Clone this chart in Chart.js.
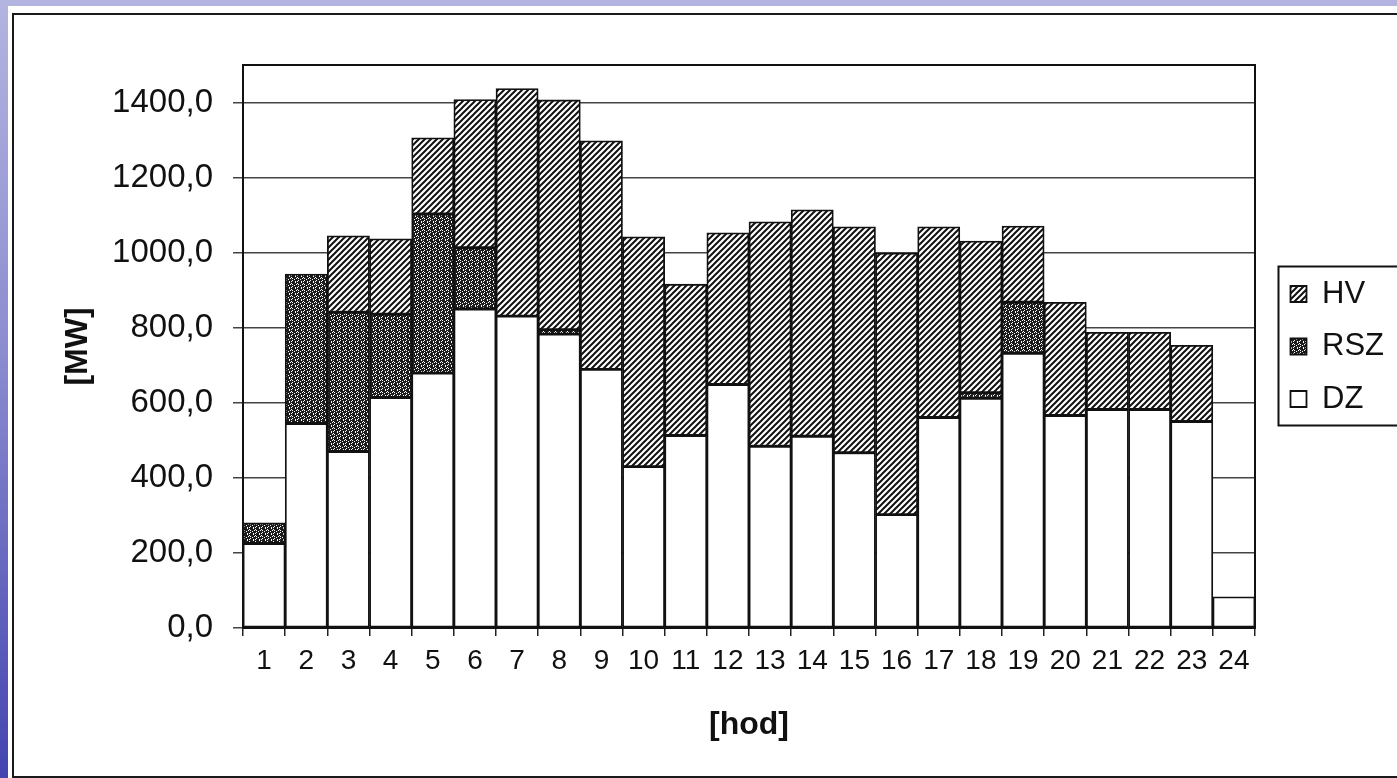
<!DOCTYPE html>
<html>
<head>
<meta charset="utf-8">
<script src="https://cdn.jsdelivr.net/npm/chart.js@4"></script>
<style>
html, body { margin: 0; padding: 0; }
body {
    width: 1397px; height: 778px; overflow: hidden; position: relative;
    background: linear-gradient(180deg, #b4b4e0 0%, #8c8cd0 45%, #4444b0 100%);
}
#card { position: absolute; left: 8px; top: 6px; width: 1400px; height: 780px; background: #fff; }
#frame { position: absolute; left: 12px; top: 13px; width: 1400px; height: 761px; border: 2px solid #1a1a1a; }
#holder { position: absolute; left: 0; top: 0; width: 1397px; height: 778px; }
</style>
</head>
<body>
<div id="card"></div>
<div id="frame"></div>
<div id="holder"><canvas id="chartHolder"></canvas></div>
<script>
const chartHolder = document.getElementById("chartHolder");

// hours of the day
const hours = ["1", "2", "3", "4", "5", "6", "7", "8", "9", "10", "11", "12",
    "13", "14", "15", "16", "17", "18", "19", "20", "21", "22", "23", "24"];

// [MW]
const dzValues  = [225, 545, 470, 614, 679, 850, 831, 783, 689, 430, 513, 649,
    484, 511, 467, 302, 561, 612, 732, 566, 582, 582, 550, 83];
const rszValues = [55, 398, 371, 222, 424, 163, 0, 12, 0, 0, 0, 0,
    0, 0, 0, 0, 0, 15, 136, 0, 0, 0, 0, 0];
const hvValues  = [0, 0, 204, 201, 203, 395, 606, 612, 609, 612, 403, 404,
    598, 603, 602, 697, 508, 404, 203, 302, 206, 206, 203, 0];

const yTicks = [0, 200, 400, 600, 800, 1000, 1200, 1400];

const fontName = "'Liberation Sans', Arial, sans-serif";

function makePattern(size, draw)
{
    const cv = document.createElement("canvas");
    cv.width = size;
    cv.height = size;
    const c = cv.getContext("2d");
    c.fillStyle = "#fff";
    c.fillRect(0, 0, size, size);
    draw(c, size);
    return c.createPattern(cv, "repeat");
}

// diagonal hatching for HV
const hatch = makePattern(6, (c, s) => {
    c.strokeStyle = "#111";
    c.lineWidth = 2;
    c.beginPath();
    c.moveTo(0, s); c.lineTo(s, 0);
    c.moveTo(-2, 2); c.lineTo(2, -2);
    c.moveTo(s - 2, s + 2); c.lineTo(s + 2, s - 2);
    c.stroke();
});

// dark stipple for RSZ
const stipple = makePattern(6, (c, s) => {
    const rows = ["#.####", "###.##", "##.#.#", ".#####", "####.#", "#.#.##"];
    c.fillStyle = "#1c1c1c";
    rows.forEach((row, y) => {
        for (let x = 0; x < row.length; x++)
        {
            if (row[x] === "#") c.fillRect(x, y, 1, 1);
        }
    });
});

const framePlugin = {
    id: "frame",
    afterDraw(chart)
    {
        const {ctx, chartArea: a, legend} = chart;
        ctx.save();
        ctx.strokeStyle = "#111";
        ctx.lineWidth = 2;
        ctx.strokeRect(a.left, a.top, a.right - a.left, a.bottom - a.top);
        const hb = legend.legendHitBoxes;
        if (hb && hb.length)
        {
            const first = hb[0];
            const last = hb[hb.length - 1];
            const x = first.left - 12;
            const y = first.top - 12;
            ctx.strokeRect(x, y, chart.width + 30 - x, last.top + last.height + 11 - y);
        }
        ctx.restore();
    }
};

function bar(label, data, fill)
{
    return {
        label: label,
        data: data,
        backgroundColor: fill,
        borderColor: "#111",
        borderWidth: 1.8,
        borderSkipped: false,
        categoryPercentage: 1.0,
        barPercentage: 1.0
    };
}

new Chart(chartHolder, {
    type: "bar",
    data: {
        labels: hours,
        datasets: [
            bar("DZ", dzValues, "#fff"),
            bar("RSZ", rszValues, stipple),
            bar("HV", hvValues, hatch)
        ]
    },
    plugins: [framePlugin],
    options: {
        responsive: true,
        maintainAspectRatio: false,
        animation: false,
        layout: {padding: {left: 40, top: 65, right: 3, bottom: 14}},
        plugins: {
            tooltip: {enabled: false},
            legend: {
                position: "right",
                fullSize: false,
                reverse: true,
                labels: {
                    boxWidth: 16,
                    boxHeight: 16,
                    padding: 21.5,
                    color: "#111",
                    font: {family: fontName, size: 31}
                }
            }
        },
        scales: {
            x: {
                stacked: true,
                offset: true,
                grid: {
                    display: true,
                    drawOnChartArea: false,
                    drawTicks: true,
                    tickLength: 8,
                    color: "#222",
                    lineWidth: 1.5
                },
                border: {color: "#111", width: 2},
                ticks: {
                    color: "#111",
                    padding: 8,
                    maxRotation: 0,
                    autoSkip: false,
                    font: {family: fontName, size: 28}
                },
                title: {
                    display: true,
                    text: "[hod]",
                    color: "#111",
                    font: {family: fontName, size: 32, weight: "bold"},
                    padding: {top: 0, bottom: 20}
                },
                afterFit: (scale) => { scale.height = 778 - 14 - 628; }
            },
            y: {
                stacked: true,
                min: 0,
                max: 1500,
                grid: {color: "#444", lineWidth: 1.5, tickLength: 10},
                border: {color: "#111", width: 2},
                afterBuildTicks: (scale) => { scale.ticks = yTicks.map(v => ({value: v})); },
                ticks: {
                    color: "#111",
                    padding: 20,
                    font: {family: fontName, size: 33},
                    callback: (v) => v.toFixed(1).replace(".", ",")
                },
                title: {
                    display: true,
                    text: "[MW]",
                    color: "#111",
                    font: {family: fontName, size: 32, weight: "bold"},
                    padding: {top: 19, bottom: 0}
                },
                afterFit: (scale) => { scale.width = 243 - 40; }
            },
            gap: {
                type: "linear",
                position: "right",
                display: true,
                grid: {display: false},
                border: {display: false},
                ticks: {display: false},
                afterFit: (scale) => { scale.width = 14; }
            }
        }
    }
});
</script>
</body>
</html>
